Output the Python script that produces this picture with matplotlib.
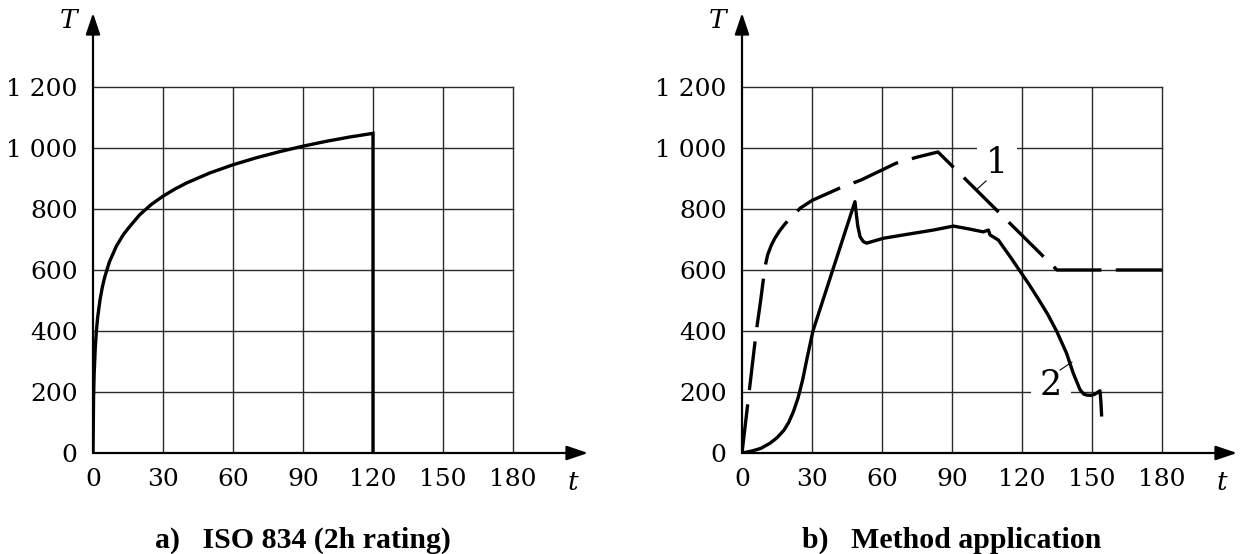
import matplotlib
matplotlib.use("Agg")
import matplotlib.pyplot as plt

# ---------------- data ----------------
x_ticks = [0, 30, 60, 90, 120, 150, 180]
y_ticks = [0, 200, 400, 600, 800, 1000, 1200]
y_tick_labels = ["0", "200", "400", "600", "800", "1 000", "1 200"]

# a) ISO 834 standard fire curve (2 h rating)
iso_t = [0, 0.25, 0.5, 1, 1.5, 2, 3, 4, 5, 7, 10, 13, 16, 20, 25, 30, 35, 40,
         50, 60, 70, 80, 90, 100, 110, 120, 120]
iso_T = [0, 185, 261, 349, 404, 445, 502, 544, 576, 626, 678, 716, 745, 781,
         815, 842, 865, 885, 918, 945, 968, 988, 1006, 1022, 1036, 1048, 0]

# b) curve 1 (dashed)
c1_t = [0, 3, 6, 8, 9, 10, 11, 12.5, 14, 16, 18, 20, 25, 30, 42, 51, 60, 66, 75, 84, 135, 180]
c1_T = [0, 196, 392, 500, 560, 615, 650, 680, 703, 727, 747, 765, 803, 828, 869, 895, 928,
        950, 970, 987, 600, 600]

# b) curve 2 (solid)
c2_t = [0, 4, 8, 12, 15, 18, 20, 22, 24, 26, 28, 30.4, 48.4, 48.9, 49.6, 50.6, 52, 53.4,
        60.6, 70, 82, 90.6, 97, 103.4, 105.6, 106.3, 109.9, 112, 114.9, 119, 123,
        127, 131, 135, 139.1, 142, 144.9, 146.5, 147.7, 149.5, 151.3, 153.4, 153.8, 154.1]
c2_T = [0, 6, 15, 32, 50, 75, 100, 135, 180, 240, 315, 400, 824, 790, 745, 709, 693, 688,
        704, 716, 731, 744, 735, 725, 731, 715, 698, 675, 644, 598, 553,
        505, 455, 397, 327, 261, 207, 193, 190, 189, 193, 204, 170, 125]

titles = ["a)   ISO 834 (2h rating)", "b)   Method application"]

# ---------------- layout ----------------
W, H = 1248, 554
fig = plt.figure(figsize=(W / 100, H / 100), dpi=100)

px_per_min = 70 / 30.0
px_per_deg = 366 / 1200.0
arrow_len_x = 495
arrow_len_y = 440
x_max = arrow_len_x / px_per_min
y_max = arrow_len_y / px_per_deg
origin_y = 453

tick_font = dict(family="DejaVu Serif", size=18)
grid_color = "#2a2a2a"


def make_axes(x0):
    ax = fig.add_axes([x0 / W, (H - origin_y) / H, arrow_len_x / W, arrow_len_y / H])
    ax.set_xlim(0, x_max)
    ax.set_ylim(0, y_max)
    for s in ax.spines.values():
        s.set_visible(False)
    ax.set_xticks(x_ticks)
    ax.set_xticklabels([str(v) for v in x_ticks], fontdict=tick_font)
    ax.set_yticks(y_ticks)
    ax.set_yticklabels(y_tick_labels, fontdict=tick_font)
    ax.tick_params(axis="x", length=0, pad=10.5)
    ax.tick_params(axis="y", length=0, pad=11)
    ax.patch.set_visible(False)
    # grid
    for xv in x_ticks[1:]:
        ax.plot([xv, xv], [0, y_ticks[-1]], color=grid_color, lw=1.0, zorder=1)
    for yv in y_ticks[1:]:
        ax.plot([0, x_ticks[-1]], [yv, yv], color=grid_color, lw=1.0, zorder=1)
    # axes with arrows
    ap = dict(arrowstyle="-|>,head_length=0.65,head_width=0.22", lw=1.6,
              color="black", shrinkA=0, shrinkB=0, mutation_scale=20)
    ax.annotate("", xy=(x_max, 0), xytext=(0, 0), arrowprops=ap,
                annotation_clip=False, zorder=5)
    ax.annotate("", xy=(0, y_max), xytext=(0, 0), arrowprops=ap,
                annotation_clip=False, zorder=5)
    ax.text(-24 / px_per_min, y_max - 8 / px_per_deg, "T", ha="center", va="center",
            fontsize=19, family="DejaVu Serif", style="italic")
    ax.text(480 / px_per_min, -29 / px_per_deg, "t", ha="center", va="center",
            fontsize=19, family="DejaVu Serif", style="italic")
    return ax


axL = make_axes(93)
axL.plot(iso_t, iso_T, color="black", lw=2.4, zorder=4, solid_joinstyle="miter")

axR = make_axes(742)
l1, = axR.plot(c1_t, c1_T, color="black", lw=2.4, zorder=4)
l1.set_dashes((14.7, 4.3))
l1.set_dash_capstyle("butt")
axR.plot(c2_t, c2_T, color="black", lw=2.4, zorder=4, solid_joinstyle="round")

# labels 1 and 2 with leaders
lab_font = dict(family="DejaVu Serif", size=25)
axR.text(109.3, 951, "1", ha="center", va="center", fontdict=lab_font, zorder=3,
         bbox=dict(boxstyle="square,pad=0.25", fc="white", ec="none"))
axR.plot([100.3, 104.6], [862, 892], color="black", lw=0.8, zorder=4)
axR.text(132.5, 222, "2", ha="center", va="center", fontdict=lab_font, zorder=3,
         bbox=dict(boxstyle="square,pad=0.25", fc="white", ec="none"))
axR.plot([136.3, 141.4], [272, 298], color="black", lw=0.8, zorder=4)

# titles
fig.text(303 / W, 1 - 548 / H, titles[0], ha="center", va="baseline",
         family="Liberation Serif", weight="bold", fontsize=21.5)
fig.text(952 / W, 1 - 548 / H, titles[1], ha="center", va="baseline",
         family="Liberation Serif", weight="bold", fontsize=21.5)

fig.savefig("out.png", dpi=100)
